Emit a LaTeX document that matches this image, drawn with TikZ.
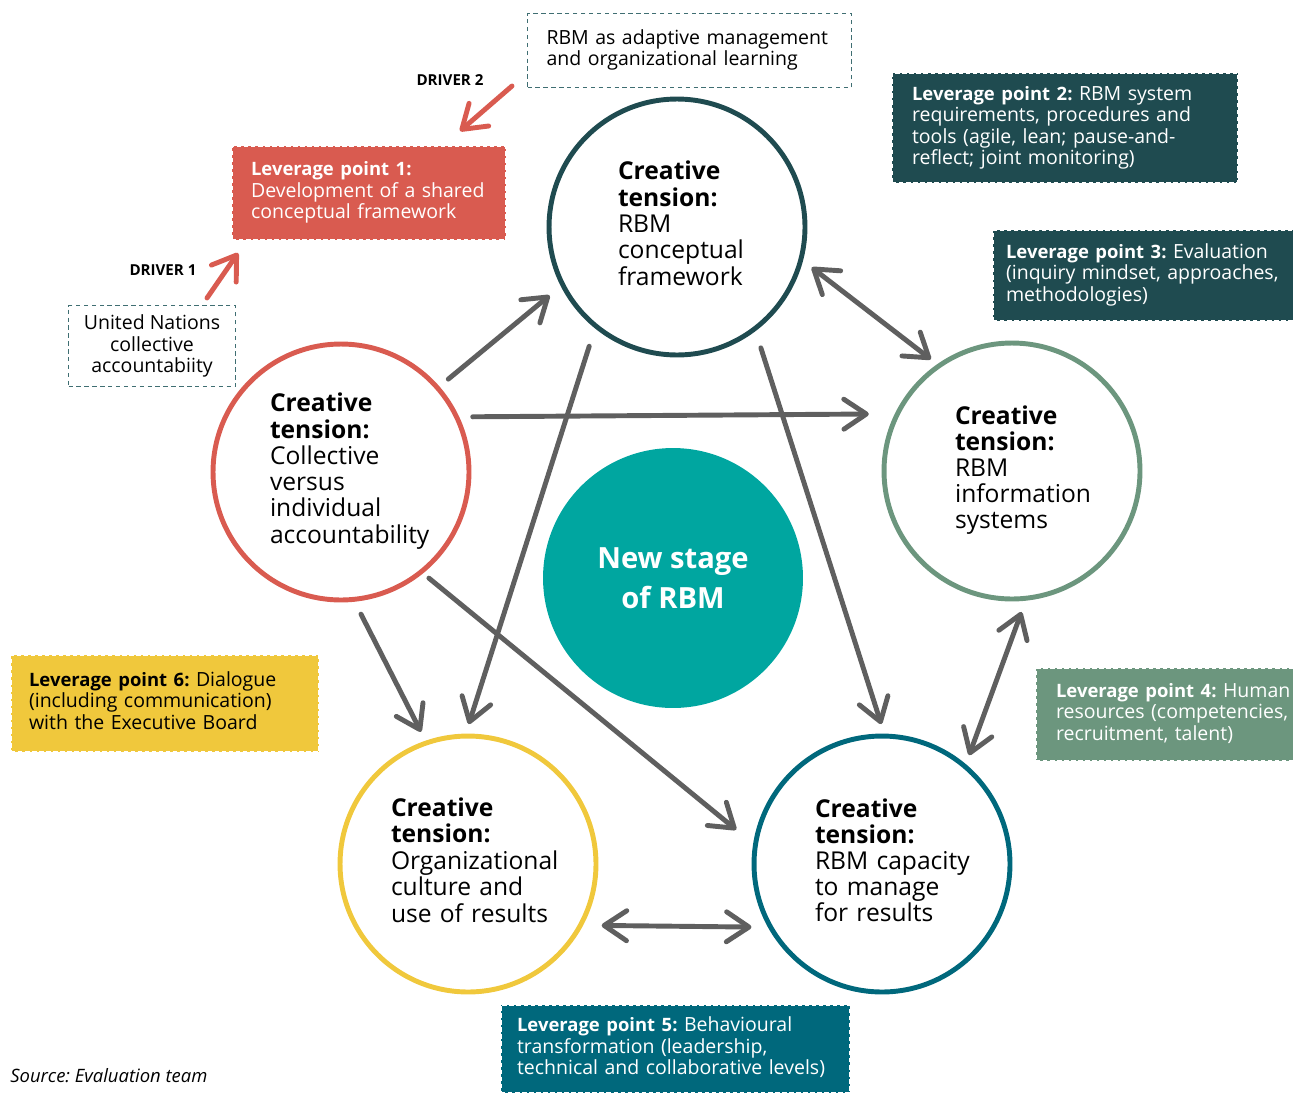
\documentclass[tikz,border=0pt]{standalone}
\usepackage{fontspec}
\setmainfont{Open Sans}
\usetikzlibrary{arrows.meta}
\usetikzlibrary{positioning}
\frenchspacing

\definecolor{lpred}{HTML}{D95B50}
\definecolor{lpdark}{HTML}{1F4B50}
\definecolor{lpgreen}{HTML}{6C967E}
\definecolor{lpblue}{HTML}{00687C}
\definecolor{lpyellow}{HTML}{F0C83C}
\definecolor{rbmteal}{HTML}{00A6A0}
\definecolor{arrowgray}{HTML}{5F5F5F}
\definecolor{dashteal}{HTML}{3F6E72}

\newcommand{\boxrows}[1]{\begin{tabular}{@{}l@{}}#1\end{tabular}}
\newcommand{\lpname}[1]{{\bfseries\fontsize{10.5}{12.2}\selectfont #1}}

\tikzset{
  tension/.style={circle, draw=#1, line width=2.8pt, minimum size=5.12cm, inner sep=0pt, align=left, font=\fontsize{14}{14.7}\selectfont},
  lever/.style={rectangle, fill=#1, draw=white, line width=1.2pt, dash pattern=on 2.5pt off 1.5pt, anchor=north west, text=white, align=left, inner ysep=0pt, font=\fontsize{11.1}{12.2}\selectfont},
  note/.style={rectangle, draw=dashteal, line width=0.6pt, dash pattern=on 2.5pt off 2pt, anchor=north west, inner ysep=0pt, font=\fontsize{11.1}{12.2}\selectfont},
  link/.style={draw=arrowgray, line width=2.8pt, line cap=round, -{Straight Barb[round,length=0.45cm,width=0.6cm]}},
  twoway/.style={link, {Straight Barb[round,length=0.45cm,width=0.6cm]}-{Straight Barb[round,length=0.45cm,width=0.6cm]}},
  drive/.style={link, draw=lpred},
  drvlabel/.style={font=\bfseries\fontsize{8.6}{10}\selectfont, inner sep=0pt}
}

\begin{document}
\begin{tikzpicture}[x=0.02cm,y=-0.02cm]
\useasboundingbox (0,0) rectangle (1293,1092);

% creative tensions
\node[tension=lpdark, text width=2.36cm] (T) at (677,227) {\boxrows{\textbf{Creative}\\\textbf{tension:}\\RBM\\conceptual\\framework}};
\node[tension=lpred, text width=2.84cm] (L) at (341,472) {\boxrows{\textbf{Creative}\\\textbf{tension:}\\Collective\\versus\\individual\\accountability}};
\node[tension=lpgreen, text width=2.28cm] (R) at (1012,471) {\boxrows{\textbf{Creative}\\\textbf{tension:}\\RBM\\information\\systems}};
\node[tension=lpyellow, text width=3.08cm] (BL) at (468,864) {\boxrows{\textbf{Creative}\\\textbf{tension:}\\Organizational\\culture and\\use of results}};
\node[tension=lpblue, text width=2.68cm] (BR) at (882,864) {\boxrows{\textbf{Creative}\\\textbf{tension:}\\RBM capacity\\to manage\\for results}};
\node[circle, fill=rbmteal, minimum size=5.2cm, inner sep=0pt, align=center, text=white, font=\bfseries\fontsize{16.6}{22.7}\selectfont] (C) at (673,578) {New stage\\of RBM};

% leverage points
\node[lever=lpred, minimum width=5.48cm, minimum height=1.88cm, text width=4.72cm, inner xsep=0.38cm] (lp1) at (231,145) {\boxrows{\lpname{Leverage point 1:}\\Development of a shared\\conceptual framework}};
\node[lever=lpdark, minimum width=6.92cm, minimum height=2.2cm, text width=6.12cm, inner xsep=0.4cm] (lp2) at (891,72) {\boxrows{\lpname{Leverage point 2:} RBM system\\requirements, procedures and\\tools (agile, lean; pause-and-\\reflect; joint monitoring)}};
\node[lever=lpdark, minimum width=6.02cm, minimum height=1.82cm, text width=5.5cm, inner xsep=0.26cm] (lp3) at (992,229) {\boxrows{\lpname{Leverage point 3:} Evaluation\\(inquiry mindset, approaches,\\methodologies)}};
\node[lever=lpgreen, minimum width=5.16cm, minimum height=1.86cm, text width=4.36cm, inner xsep=0.4cm] (lp4) at (1035,667) {\boxrows{\lpname{Leverage point 4:} Human\\resources (competencies,\\recruitment, talent)}};
\node[lever=lpblue, minimum width=6.98cm, minimum height=1.76cm, text width=6.34cm, inner xsep=0.32cm] (lp5) at (500,1004) {\boxrows{\lpname{Leverage point 5:} Behavioural\\transformation (leadership,\\technical and collaborative levels)}};
\node[lever=lpyellow, text=black, minimum width=6.16cm, minimum height=1.94cm, text width=5.44cm, inner xsep=0.36cm] (lp6) at (10,654) {\boxrows{\lpname{Leverage point 6:} Dialogue\\(including communication)\\with the Executive Board}};

% drivers
\node[note, minimum width=6.48cm, minimum height=1.48cm, text width=5.72cm, inner xsep=0.38cm, align=left] (adapt) at (527,13) {\boxrows{RBM as adaptive management\\and organizational learning}};
\node[note, minimum width=3.34cm, minimum height=1.62cm, align=center] (un) at (68,305) {United Nations\\collective\\accountabiity};
\node[drvlabel] (drv2) at (450,80) {DRIVER 2};
\node[drvlabel] (drv1) at (163,270) {DRIVER 1};
\coordinate (d2tail) at (512,86);
\coordinate (d2head) at (460,131);
\coordinate (d1tail) at (207,298);
\coordinate (d1head) at (238,253);
\draw[drive] (d2tail) -- (d2head);
\draw[drive] (d1tail) -- (d1head);

% links between tensions
\draw[link, shorten <=0.23cm, shorten >=0.29cm] (L.41.2) -- (T.207.4);
\draw[link, shorten <=0.27cm, shorten >=0.52cm] (L.25.9) -- (R.154.6);
\draw[twoway, shorten <=0.22cm, shorten >=0.16cm] (T.345.7) -- (R.125.6);
\draw[link, shorten <=0.375cm, shorten >=0.2cm] (T.231.5) -- (BL.91.4);
\draw[link, shorten <=0.35cm, shorten >=0.2cm] (T.307.7) -- (BR.89.6);
\draw[link, shorten <=0.28cm, shorten >=0.2cm] (L.276.6) -- (BL.109.5);
\draw[link, shorten <=0.15cm, shorten >=0.44cm] (L.309.7) -- (BR.171.2);
\draw[twoway, shorten <=0.24cm, shorten >=0.19cm] (R.276.3) -- (BR.50.7);
\draw[twoway, shorten <=0.37cm, shorten >=0.33cm] (BL.332.3) -- (BR.209.5);

\node[anchor=west, inner sep=0pt, font=\itshape\fontsize{10.5}{12}\selectfont] (src) at (10,1076) {Source: Evaluation team};
\end{tikzpicture}
\end{document}
